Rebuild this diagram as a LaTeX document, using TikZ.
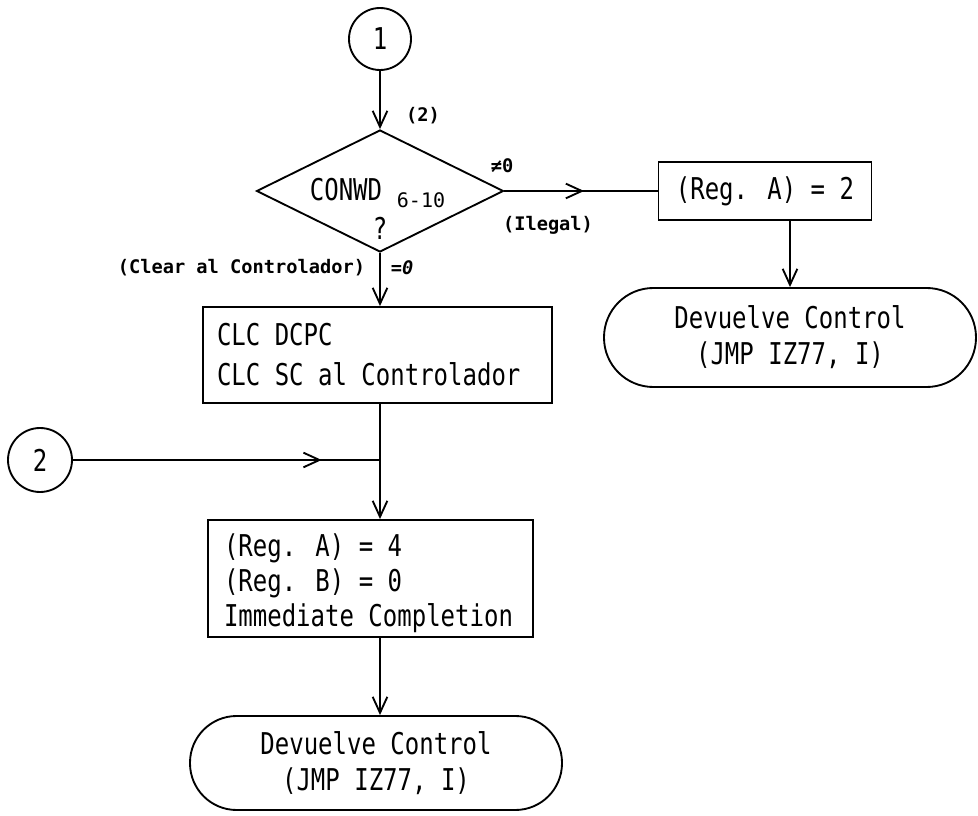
\documentclass[tikz,border=0pt]{standalone}
\usepackage{fontspec}
\usetikzlibrary{arrows.meta, shapes.geometric, decorations.markings, calc}
\newfontfamily\plotfont[FakeStretch=0.8]{DejaVu Sans Mono}
\newfontfamily\tagfont{DejaVu Sans Mono}
\newcommand{\monospaces}{\spaceskip=0pt\xspaceskip=0pt\relax}

\begin{document}
\begin{tikzpicture}[x=0.75pt, y=-0.75pt, line width=1.4pt,
    flowline/.style={-{Straight Barb[length=12pt,width=11pt]}},
    tipat/.style={postaction={decorate}, decoration={markings,
        mark=at position #1 with {\arrow{Straight Barb[length=12pt,width=11pt]}}}},
    connector/.style={draw, circle, inner sep=0pt, font=\plotfont\fontsize{22.5}{27}\selectfont},
    decision/.style={draw, diamond, inner sep=0pt, minimum width=185.25pt, minimum height=91.5pt},
    plaintext/.style={inner sep=0pt, font=\plotfont\fontsize{22.5}{27}\selectfont},
    subtext/.style={inner sep=0pt, font=\tagfont\fontsize{15}{17}\selectfont},
    smalltag/.style={inner sep=0pt, font=\tagfont\bfseries\fontsize{14}{16}\selectfont},
    procbox/.style={draw, align=left, inner ysep=0pt, font=\plotfont\fontsize{22.5}{27}\selectfont},
    endbox/.style={draw, align=center, inner sep=0pt, font=\plotfont\fontsize{22.5}{27}\selectfont}]
  \useasboundingbox (0,0) rectangle (978,816);

  % decision on the control word
  \node[connector, minimum size=46.5pt] (c1) at (380,39) {1};
  \node[decision] (cw) at (380,191) {};
  \node[plaintext] (cwname) at (346,190) {CONWD};
  \node[subtext] (cwbits) at (421,200) {6-10};
  \node[plaintext] (cwq) at (380,228) {?};
  \node[smalltag] (step2) at (423,116) {(2)};
  \node[smalltag] (ne0) at (502,166) {≠0};
  \node[smalltag] (ilegal) at (548,225) {(Ilegal)};
  \node[smalltag, anchor=east] (clear) at (366,268) {(Clear al Controlador)};
  \node[smalltag, font=\tagfont\bfseries\itshape\fontsize{14}{16}\selectfont] (eq0) at (402,268) {=0};

  % illegal branch
  \node[procbox, minimum width=159.75pt, minimum height=43.5pt, align=center] (rega2) at (765,191) {(Reg. A) = 2};
  \node[endbox, minimum width=279pt, minimum height=74.25pt, rounded corners=37pt] (ret1) at (790,337.5)
    {Devuelve Control\\(JMP IZ77, I)};

  % legal branch
  \node[procbox, text width=240.75pt, inner xsep=10.5pt, minimum height=72pt,
    font=\plotfont\fontsize{22.5}{30}\selectfont] (clc) at (377.5,355)
    {\monospaces CLC DCPC\\CLC SC al Controlador};
  \node[connector, minimum size=48pt] (c2) at (40,460) {2};
  \node[procbox, text width=219.75pt, inner xsep=12pt, minimum height=87.75pt,
    font=\plotfont\fontsize{22.5}{26}\selectfont] (regs) at (370.5,578.5)
    {\monospaces\rule{0pt}{24pt}(Reg. A) = 4\\(Reg. B) = 0\\Immediate Completion};
  \node[endbox, minimum width=279pt, minimum height=70.5pt, rounded corners=35pt] (ret2) at (376,763)
    {Devuelve Control\\(JMP IZ77, I)};

  \draw[flowline] (c1.south) -- (cw.north);
  \draw[tipat=0.52] (cw.east) -- (rega2.west);
  \draw[flowline] (rega2.south -| ret1.north) -- (ret1.north);
  \draw[flowline] (cw.south) -- (cw.south |- clc.north);
  \draw[flowline] (cw.south |- clc.south) -- (cw.south |- regs.north);
  \draw[tipat=0.81] (c2.east) -- (c2.east -| cw.south);
  \draw[flowline] (cw.south |- regs.south) -- (cw.south |- ret2.north);
\end{tikzpicture}
\end{document}
